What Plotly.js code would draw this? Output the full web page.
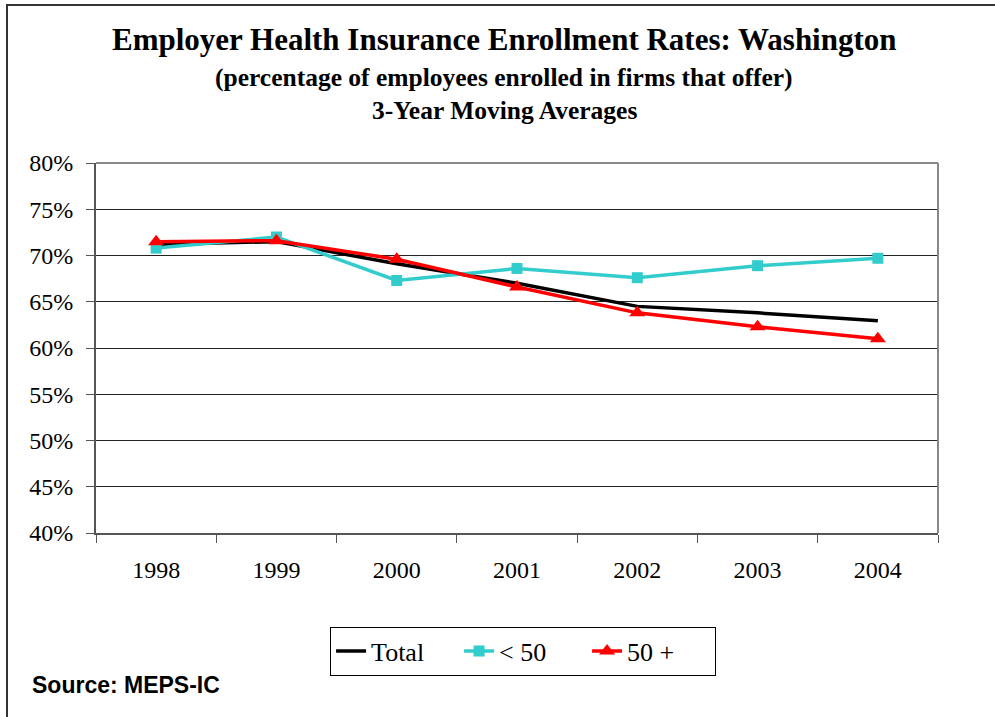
<!DOCTYPE html>
<html>
<head>
<meta charset="utf-8">
<script src="https://cdn.plot.ly/plotly-3.0.1.min.js"></script>
<style>
  html, body { margin: 0; padding: 0; background: #fff; }
  #wrap { position: relative; width: 995px; height: 717px; overflow: hidden; }
  #frame { position: absolute; left: 6px; top: 4px; width: 1000px; height: 800px;
           border-left: 2px solid #333; border-top: 2px solid #333; pointer-events: none; }
  #chart { position: absolute; left: 0; top: 0; width: 995px; height: 717px; }
</style>
</head>
<body>
<div id="wrap">
  <div id="chart"></div>
  <div id="frame"></div>
</div>
<script>
const years = ['1998', '1999', '2000', '2001', '2002', '2003', '2004'];
const total = [71.2, 71.5, 69.1, 67.0, 64.5, 63.8, 62.95];
const under50 = [70.8, 72.0, 67.3, 68.6, 67.6, 68.9, 69.7];
const over50 = [71.5, 71.6, 69.6, 66.6, 63.8, 62.3, 61.0];
const yTicks = [40, 45, 50, 55, 60, 65, 70, 75, 80];
const yTickText = yTicks.map(v => v + '%');

const serif = 'Liberation Serif, Times New Roman, serif';

const traces = [
  { x: years, y: total, name: 'Total', type: 'scatter', mode: 'lines',
    line: { color: '#000000', width: 3.5 } },
  { x: years, y: under50, name: '< 50', type: 'scatter', mode: 'lines+markers',
    line: { color: '#33CCCC', width: 3.5 },
    marker: { symbol: 'square', size: 11, color: '#33CCCC' } },
  { x: years, y: over50, name: '50 +', type: 'scatter', mode: 'lines+markers',
    line: { color: '#FF0000', width: 3.5 },
    marker: { symbol: 'triangle-up', size: 14, color: '#FF0000' } }
];

const layout = {
  width: 995, height: 717,
  margin: { l: 96, r: 57, t: 163, b: 184 },
  paper_bgcolor: 'rgba(0,0,0,0)', plot_bgcolor: '#ffffff',
  showlegend: true,
  font: { family: serif, color: '#000' },
  xaxis: {
    type: 'category', range: [-0.5, 6.5], tickson: 'boundaries',
    ticks: 'outside', ticklen: 8, tickwidth: 1,
    tickcolor: '#555', showline: true, linecolor: '#555', linewidth: 2,
    showgrid: false, zeroline: false, ticklabelstandoff: 14,
    tickfont: { family: serif, size: 24, color: '#000' }
  },
  yaxis: {
    range: [40, 80], tickvals: yTicks, ticktext: yTickText,
    ticks: 'outside', ticklen: 8, tickwidth: 1, tickcolor: '#555',
    showline: true, linecolor: '#555', linewidth: 2, ticklabelstandoff: 8,
    showgrid: true, gridcolor: '#222', gridwidth: 1, zeroline: false,
    tickfont: { family: serif, size: 24, color: '#000' }
  },
  shapes: [
    { type: 'line', xref: 'paper', yref: 'paper', x0: 0, x1: 1, y0: 1, y1: 1,
      line: { color: '#888', width: 2 } },
    { type: 'line', xref: 'paper', yref: 'paper', x0: 1, x1: 1, y0: 0, y1: 1,
      line: { color: '#888', width: 2 } }
  ],
  legend: {
    orientation: 'h', x: 0.278, xanchor: 'left', y: -0.253, yanchor: 'top',
    bordercolor: '#000', borderwidth: 1, bgcolor: '#fff',
    font: { family: serif, size: 26, color: '#000' },
    entrywidth: 83, entrywidthmode: 'pixels', tracegroupgap: 0
  },
  annotations: [
    { text: '<b>Employer Health Insurance Enrollment Rates: Washington</b>',
      xref: 'paper', yref: 'paper', x: 0.485, y: 1.333, xanchor: 'center', yanchor: 'middle',
      showarrow: false, font: { family: serif, size: 31, color: '#000' } },
    { text: '<b>(percentage of employees enrolled in firms that offer)</b>',
      xref: 'paper', yref: 'paper', x: 0.485, y: 1.231, xanchor: 'center', yanchor: 'middle',
      showarrow: false, font: { family: serif, size: 25.5, color: '#000' } },
    { text: '<b>3-Year Moving Averages</b>',
      xref: 'paper', yref: 'paper', x: 0.485, y: 1.142, xanchor: 'center', yanchor: 'middle',
      showarrow: false, font: { family: serif, size: 25.5, color: '#000' } },
    { text: '<b>Source: MEPS-IC</b>',
      xref: 'paper', yref: 'paper', x: -0.078, y: -0.412, xanchor: 'left', yanchor: 'middle',
      showarrow: false, font: { family: 'Liberation Sans, Arial, sans-serif', size: 23, color: '#000' } }
  ]
};

Plotly.newPlot('chart', traces, layout, { displayModeBar: false, staticPlot: true });
</script>
</body>
</html>
